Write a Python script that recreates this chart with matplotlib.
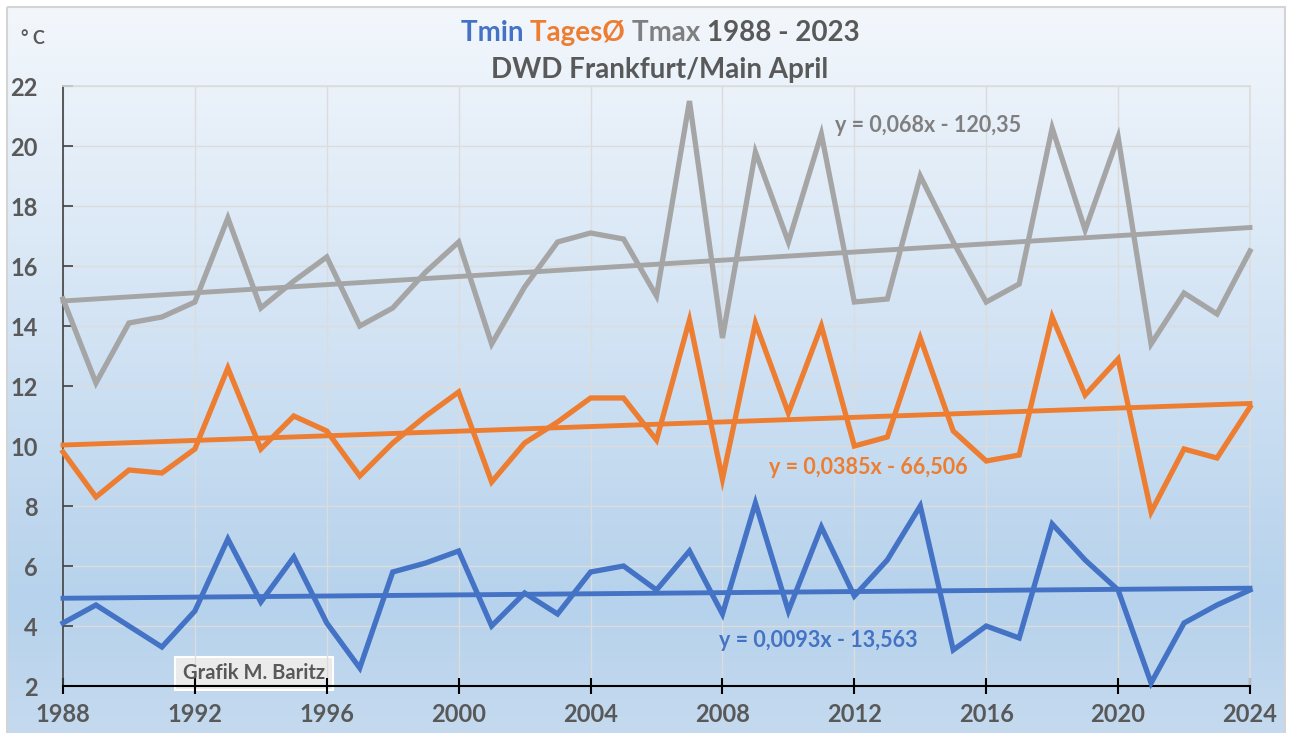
import numpy as np
import matplotlib.pyplot as plt
from matplotlib.colors import to_rgb
from matplotlib.patches import FancyBboxPatch, Rectangle

plt.rcParams['font.family'] = ['Lato', 'DejaVu Sans']

years = list(range(1988, 2025))
tmax = [14.9, 12.1, 14.1, 14.3, 14.8, 17.6, 14.6, 15.5, 16.3, 14.0,
        14.6, 15.8, 16.8, 13.4, 15.3, 16.8, 17.1, 16.9, 15.0, 21.5,
        13.6, 19.8, 16.8, 20.4, 14.8, 14.9, 19.0, 16.8, 14.8, 15.4,
        20.6, 17.2, 20.3, 13.4, 15.1, 14.4, 16.5]
tmit = [9.8, 8.3, 9.2, 9.1, 9.9, 12.6, 9.9, 11.0, 10.5, 9.0,
        10.1, 11.0, 11.8, 8.8, 10.1, 10.8, 11.6, 11.6, 10.2, 14.2,
        8.9, 14.1, 11.1, 14.0, 10.0, 10.3, 13.6, 10.5, 9.5, 9.7,
        14.3, 11.7, 12.9, 7.8, 9.9, 9.6, 11.3]
tmin = [4.1, 4.7, 4.0, 3.3, 4.5, 6.9, 4.8, 6.3, 4.1, 2.6,
        5.8, 6.1, 6.5, 4.0, 5.1, 4.4, 5.8, 6.0, 5.2, 6.5,
        4.4, 8.1, 4.5, 7.3, 5.0, 6.2, 8.0, 3.2, 4.0, 3.6,
        7.4, 6.2, 5.2, 2.1, 4.1, 4.7, 5.2]

# Trendlinien (Excel-Gleichungen)
trend_max = (0.068, -120.35)
trend_mit = (0.0385, -66.506)
trend_min = (0.0093, -13.563)
eq_max = "y = 0,068x - 120,35"
eq_mit = "y = 0,0385x - 66,506"
eq_min = "y = 0,0093x - 13,563"

blau = '#4472C4'
orange = '#ED7D31'
grau = '#A5A5A5'
text_grau = '#595959'

W, H = 1290, 733
fig = plt.figure(figsize=(W / 100, H / 100), dpi=100)

# Hintergrund mit Verlauf
bg = fig.add_axes([0, 0, 1, 1])
bg.set_xlim(0, W)
bg.set_ylim(H, 0)
bg.axis('off')
stops = [0.0, 0.45, 0.82, 1.0]
cols = [to_rgb('#F3F7FC'), to_rgb('#D2E3F4'), to_rgb('#B6D2EC'), to_rgb('#C5DAEF')]
t = np.linspace(0, 1, 400)
grad = np.stack([np.interp(t, stops, [c[i] for c in cols]) for i in range(3)], axis=-1)
grad = grad[:, None, :]
bg.imshow(grad, extent=[7, 1285, H, 7], aspect='auto', zorder=0)
bg.add_patch(Rectangle((6.5, 6.5), 1278, 730, fill=False, edgecolor='#D4D4D4', lw=1.5, zorder=1))

ax = fig.add_axes([63 / W, 1 - 686 / H, (1250 - 63) / W, (686 - 86) / H])
ax.set_facecolor('none')

x = np.array(years)
ax.plot(x, tmax, color=grau, lw=3.8, solid_joinstyle='miter', zorder=3, clip_on=False)
ax.plot(x, tmit, color=orange, lw=3.8, solid_joinstyle='miter', zorder=3, clip_on=False)
ax.plot(x, tmin, color=blau, lw=3.8, solid_joinstyle='miter', zorder=3, clip_on=False)
for (m, b), c in [(trend_max, grau), (trend_mit, orange), (trend_min, blau)]:
    ax.plot(x, m * x + b, color=c, lw=3.5, zorder=4, clip_on=False)

ax.set_xlim(1988, 2024)
ax.set_ylim(2, 22)
ax.set_xticks(range(1988, 2025, 4))
ax.set_yticks(range(2, 23, 2))
ax.grid(True, color='#DCDCDC', lw=1)
ax.set_axisbelow(True)

for s in ['top', 'right']:
    ax.spines[s].set_color('#DCDCDC')
    ax.spines[s].set_linewidth(1.2)
ax.spines['left'].set_color('#404040')
ax.spines['left'].set_linewidth(1.2)
ax.spines['bottom'].set_color('#000000')
ax.spines['bottom'].set_linewidth(1.5)

ax.tick_params(axis='y', direction='in', length=7, width=1.2, color='#404040',
               labelsize=17, labelcolor=text_grau, pad=18)
ax.tick_params(axis='x', direction='inout', length=12, width=1.5, color='#000000',
               labelsize=17, labelcolor=text_grau, pad=6)
for lab in ax.get_xticklabels() + ax.get_yticklabels():
    lab.set_fontweight('bold')

ax.text(2011.4, 20.7, eq_max, color='#7F7F7F', fontsize=15.5, fontweight='bold', va='center', zorder=5)
ax.text(2009.4, 9.27, eq_mit, color=orange, fontsize=15.5, fontweight='bold', va='center', zorder=5)
ax.text(2007.9, 3.53, eq_min, color=blau, fontsize=15.5, fontweight='bold', va='center', zorder=5)

# Titel mit farbigen Teilen
teile = [("Tmin ", blau), ("TagesØ ", orange), ("Tmax ", '#7F7F7F'), ("1988 - 2023", text_grau)]
r = fig.canvas.get_renderer()
objs = []
for s, c in teile:
    objs.append(fig.text(0, 1 - 33 / H, s, color=c, fontsize=20, fontweight='bold', va='center', ha='left'))
breiten = [o.get_window_extent(r).width for o in objs]
x0 = 660 - sum(breiten) / 2
for o, bw in zip(objs, breiten):
    o.set_x(x0 / W)
    x0 += bw
fig.text(660 / W, 1 - 70 / H, "DWD Frankfurt/Main April", color=text_grau, fontsize=20,
         fontweight='bold', ha='center', va='center')

fig.text(33 / W, 1 - 38 / H, "° C", color=text_grau, fontsize=13, fontweight='bold', ha='center', va='center')

# Grafik-Hinweis
bg.add_patch(FancyBboxPatch((175, 657), 158, 33, boxstyle='square,pad=0', facecolor='#EBEBEB',
                            edgecolor='#FFFFFF', lw=1.5, zorder=6))
bg.set_zorder(-1)
fig.text(254 / W, 1 - 673 / H, "Grafik M. Baritz", color=text_grau, fontsize=14.5,
         fontweight='bold', ha='center', va='center', zorder=10)

fig.savefig('out.png', dpi=100)
